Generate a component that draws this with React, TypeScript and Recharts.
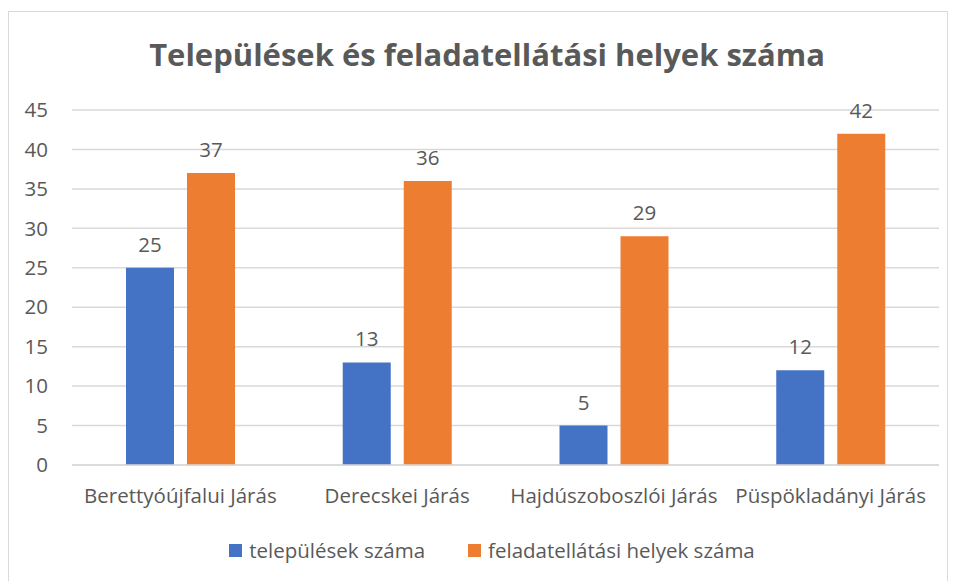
import React from 'react';
import { BarChart, Bar, XAxis, YAxis, CartesianGrid, Legend, LabelList } from 'recharts';

const categories = ['Berettyóújfalui Járás', 'Derecskei Járás', 'Hajdúszoboszlói Járás', 'Püspökladányi Járás'];
const telepulesek = [25, 13, 5, 12];
const feladatellatasi = [37, 36, 29, 42];
const yTicks = [0, 5, 10, 15, 20, 25, 30, 35, 40, 45];

const FONT = '"Open Sans", "Noto Sans", sans-serif';
const TEXT = '#595959';

const data = categories.map((name, i) => ({
  name,
  telepulesek: telepulesek[i],
  feladat: feladatellatasi[i],
}));

const LegendContent = () => (
  <div
    style={{
      display: 'flex',
      justifyContent: 'center',
      paddingLeft: 36,
      fontFamily: FONT,
      fontSize: 20.5,
      color: TEXT,
      lineHeight: '24px',
    }}
  >
    {[
      { label: 'települések száma', color: '#4472C4' },
      { label: 'feladatellátási helyek száma', color: '#ED7D31' },
    ].map((it, i) => (
      <div key={it.label} style={{ display: 'flex', alignItems: 'center', marginLeft: i ? 43 : 0 }}>
        <span style={{ width: 13, height: 13, background: it.color, display: 'inline-block', marginRight: 7 }} />
        <span>{it.label}</span>
      </div>
    ))}
  </div>
);

const App: React.FC = () => {
  return (
    <div
      style={{
        position: 'relative',
        marginTop: 3,
        width: 938,
        height: 580,
        border: '1px solid #d9d9d9',
        background: '#fff',
      }}
    >
      <div
        style={{
          position: 'absolute',
          top: 21,
          left: 0,
          width: 956,
          textAlign: 'center',
          fontFamily: FONT,
          fontWeight: 'bold',
          fontSize: 31,
          color: TEXT,
        }}
      >
        Települések és feladatellátási helyek száma
      </div>
      <BarChart
        width={938}
        height={570}
        data={data}
        margin={{ top: 98, right: 8, bottom: 33, left: 0 }}
        barGap={13}
        barSize={48}
      >
        <CartesianGrid vertical={false} stroke="#d9d9d9" strokeWidth={1.5} />
        <XAxis
          dataKey="name"
          axisLine={{ stroke: '#d9d9d9', strokeWidth: 1.5 }}
          tickLine={false}
          tick={{ fill: TEXT, fontSize: 20.5, fontFamily: FONT }}
          tickMargin={17}
          height={60}
          interval={0}
        />
        <YAxis
          domain={[0, 45]}
          ticks={yTicks}
          axisLine={false}
          tickLine={false}
          tick={{ fill: TEXT, fontSize: 20.5, fontFamily: FONT }}
          tickMargin={18}
          width={63}
        />
        <Legend verticalAlign="bottom" content={<LegendContent />} wrapperStyle={{ bottom: 20, height: 24 }} />
        <Bar dataKey="telepulesek" name="települések száma" fill="#4472C4" isAnimationActive={false}>
          <LabelList dataKey="telepulesek" position="top" offset={16} fill={TEXT} fontSize={20.5} fontFamily={FONT} />
        </Bar>
        <Bar dataKey="feladat" name="feladatellátási helyek száma" fill="#ED7D31" isAnimationActive={false}>
          <LabelList dataKey="feladat" position="top" offset={16} fill={TEXT} fontSize={20.5} fontFamily={FONT} />
        </Bar>
      </BarChart>
    </div>
  );
};

export default App;
